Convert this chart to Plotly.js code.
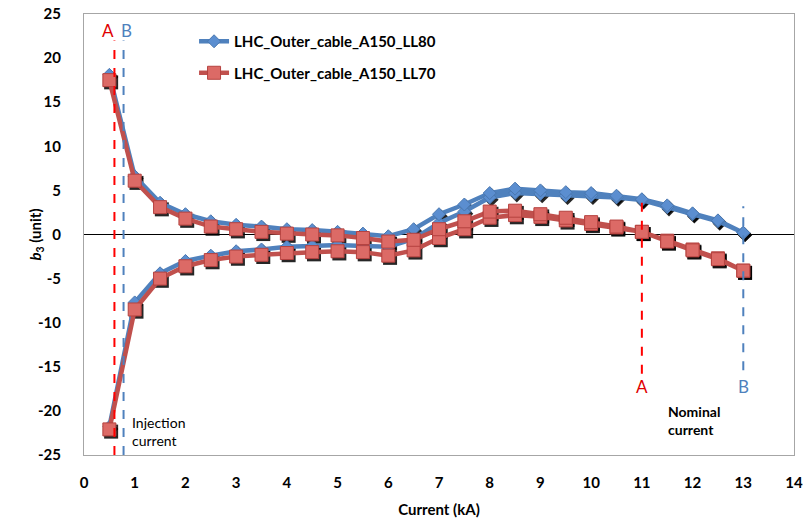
<!DOCTYPE html>
<html>
<head>
<meta charset="utf-8">
<script src="https://cdn.plot.ly/plotly-3.0.1.min.js"></script>
<style>html,body{margin:0;padding:0;background:#fff;}#chart{width:806px;height:520px;}</style>
</head>
<body>
<div id="chart"></div>
<script>
// Current steps (kA), ascending
const currentKA = [0.5,1,1.5,2,2.5,3,3.5,4,4.5,5,5.5,6,6.5,7,7.5,8,8.5,9,9.5,10,10.5,11,11.5,12,12.5,13];
// b3 (unit) – up ramp and down ramp, listed in ascending current order
const ll80Up   = [-21.8,-7.7,-4.4,-3.0,-2.4,-1.9,-1.7,-1.4,-1.3,-1.2,-1.3,-1.4,-0.5,1.3,2.6,4.2,4.7,4.6,4.4,4.4,4.2,3.9,3.1,2.3,1.5,0.2];
const ll80Down = [18.1,6.6,3.6,2.3,1.5,1.1,0.9,0.6,0.5,0.3,0.1,-0.2,0.6,2.3,3.4,4.7,5.2,5.0,4.8,4.7,4.4,4.0,3.3,2.4,1.6,0.2];
const ll70Up   = [-22.1,-8.5,-5.0,-3.6,-2.9,-2.5,-2.3,-2.1,-2.0,-1.9,-2.0,-2.4,-1.8,-0.4,0.6,1.9,2.2,2.0,1.6,1.2,0.8,0.3,-0.7,-1.7,-2.7,-4.1];
const ll70Down = [17.5,6.1,3.1,1.8,0.9,0.6,0.3,0.1,0.0,-0.1,-0.4,-0.8,-0.6,0.6,1.5,2.6,2.7,2.3,1.9,1.4,0.9,0.3,-0.8,-1.8,-2.8,-4.1];
const seriesNames = ['LHC_Outer_cable_A150_LL80','LHC_Outer_cable_A150_LL70'];

// Reference markers (injection / nominal currents)
const refLabels  = ['A','B','A','B'];
const refCurrent = [0.6,0.78,11,13];
const refTop     = [22,22,4.0,3.2];
const refBottom  = [-25,-25,-15.8,-15.4];
const refLabelX  = [0.47,0.83,11,13];
const refLabelY  = [23.1,23.1,-17.2,-17.2];
const refColors  = ['#E00000','#4F81BD','#E00000','#4F81BD'];
const dashColors = ['#FF0000','#4F81BD','#FF0000','#4F81BD'];
const noteTexts  = ['Injection<br>current','Nominal<br>current'];
const noteX      = [0.9,11.48];
const noteY      = [-22.3,-21.1];

const xTicks = [0,1,2,3,4,5,6,7,8,9,10,11,12,13,14];
const yTicks = [-25,-20,-15,-10,-5,0,5,10,15,20,25];

const loopX = currentKA.concat(currentKA.slice().reverse());
const loop = (up, down) => up.concat(down.slice().reverse());

const FONT = 'Lato, "Liberation Sans", sans-serif';

const blueLine = '#4F81BD', redLine = '#C0504D';

const traces = [
  // shadows
  {x: loopX, y: loop(ll80Up, ll80Down), xaxis:'x2', yaxis:'y2', mode:'markers', showlegend:false, hoverinfo:'skip',
   marker:{symbol:'diamond', size:11, color:'rgba(0,0,0,0.85)'}},
  // blue series
  {x: loopX, y: loop(ll80Up, ll80Down), xaxis:'x3', yaxis:'y3', mode:'lines+markers', name: seriesNames[0],
   legendgroup:'a', line:{color:blueLine, width:4.5},
   marker:{symbol:'diamond', size:10, color:'#5B8ED0', line:{color:'#4A78B0', width:1}}},
  {x: loopX, y: loop(ll70Up, ll70Down), xaxis:'x2', yaxis:'y2', mode:'markers', showlegend:false, hoverinfo:'skip',
   marker:{symbol:'square', size:14, color:'rgba(0,0,0,0.85)'}},
  {x: loopX, y: loop(ll70Up, ll70Down), xaxis:'x3', yaxis:'y3', mode:'lines+markers', name: seriesNames[1],
   legendgroup:'b', line:{color:redLine, width:4.5},
   marker:{symbol:'square', size:13, color:'#DC6A66', line:{color:'#B5423F', width:1}}}
];

const shapes = refCurrent.map((c,i) => ({
  type:'line', xref:'x', yref:'y', x0:c, x1:c, y0:refBottom[i], y1:refTop[i], layer:'above',
  line:{color:dashColors[i], width:2, dash:'dash'}
}));

const annotations = refLabelX.map((c,i) => ({
  x:c, y:refLabelY[i], xref:'x', yref:'y', text:refLabels[i], showarrow:false,
  font:{family:FONT, size:17, color:refColors[i]}, xanchor:'center', yanchor:'middle'
})).concat(noteTexts.map((t,i) => ({
  x:noteX[i], y:noteY[i], xref:'x', yref:'y', text:t, showarrow:false, align:'left',
  xanchor:'left', yanchor:'middle', font:{family:FONT, size:14, color:'#000', weight: i===1 ? 'bold' : 'normal'}
}))).concat([{
  x:-0.069, y:0.5, xref:'paper', yref:'paper', text:'<i>b</i><sub>3</sub> (unit)', textangle:-90,
  showarrow:false, xanchor:'center', yanchor:'middle', font:{family:FONT, size:15, weight:'bold', color:'#000'}
}]);

const shiftX = 0.035, shiftY = 0.25;
const layout = {
  width:806, height:520,
  margin:{l:84, r:12, t:14, b:65},
  paper_bgcolor:'#fff', plot_bgcolor:'#fff',
  font:{family:FONT, color:'#000'},
  showlegend:true,
  legend:{x:0.155, y:0.975, xanchor:'left', yanchor:'top', bgcolor:'rgba(0,0,0,0)',
          traceorder:'grouped', tracegroupgap:9, font:{family:FONT, size:15, weight:'bold'}},
  xaxis:{range:[0,14], tickvals:xTicks, ticktext:xTicks.map(String), showgrid:false, zeroline:false,
         showline:true, mirror:true, linecolor:'#A6A6A6', linewidth:1, ticks:'',
         tickfont:{family:FONT, size:15, weight:'bold'}, ticklabelstandoff:14,
         title:{text:'Current (kA)', font:{family:FONT, size:15, weight:'bold'}, standoff:14}},
  yaxis:{range:[-25,25], tickvals:yTicks, ticktext:yTicks.map(String), showgrid:false,
         zeroline:true, zerolinecolor:'#000', zerolinewidth:1,
         showline:true, mirror:true, linecolor:'#A6A6A6', linewidth:1, ticks:'',
         tickfont:{family:FONT, size:15, weight:'bold'}, ticklabelstandoff:19},
  xaxis2:{overlaying:'x', range:[0-shiftX,14-shiftX], visible:false, fixedrange:true},
  yaxis2:{overlaying:'y', range:[-25+shiftY,25+shiftY], visible:false, fixedrange:true},
  xaxis3:{overlaying:'x', range:[0,14], visible:false, fixedrange:true},
  yaxis3:{overlaying:'y', range:[-25,25], visible:false, fixedrange:true},
  shapes: shapes,
  annotations: annotations
};

Plotly.newPlot('chart', traces, layout, {displayModeBar:false, staticPlot:true});
</script>
</body>
</html>
